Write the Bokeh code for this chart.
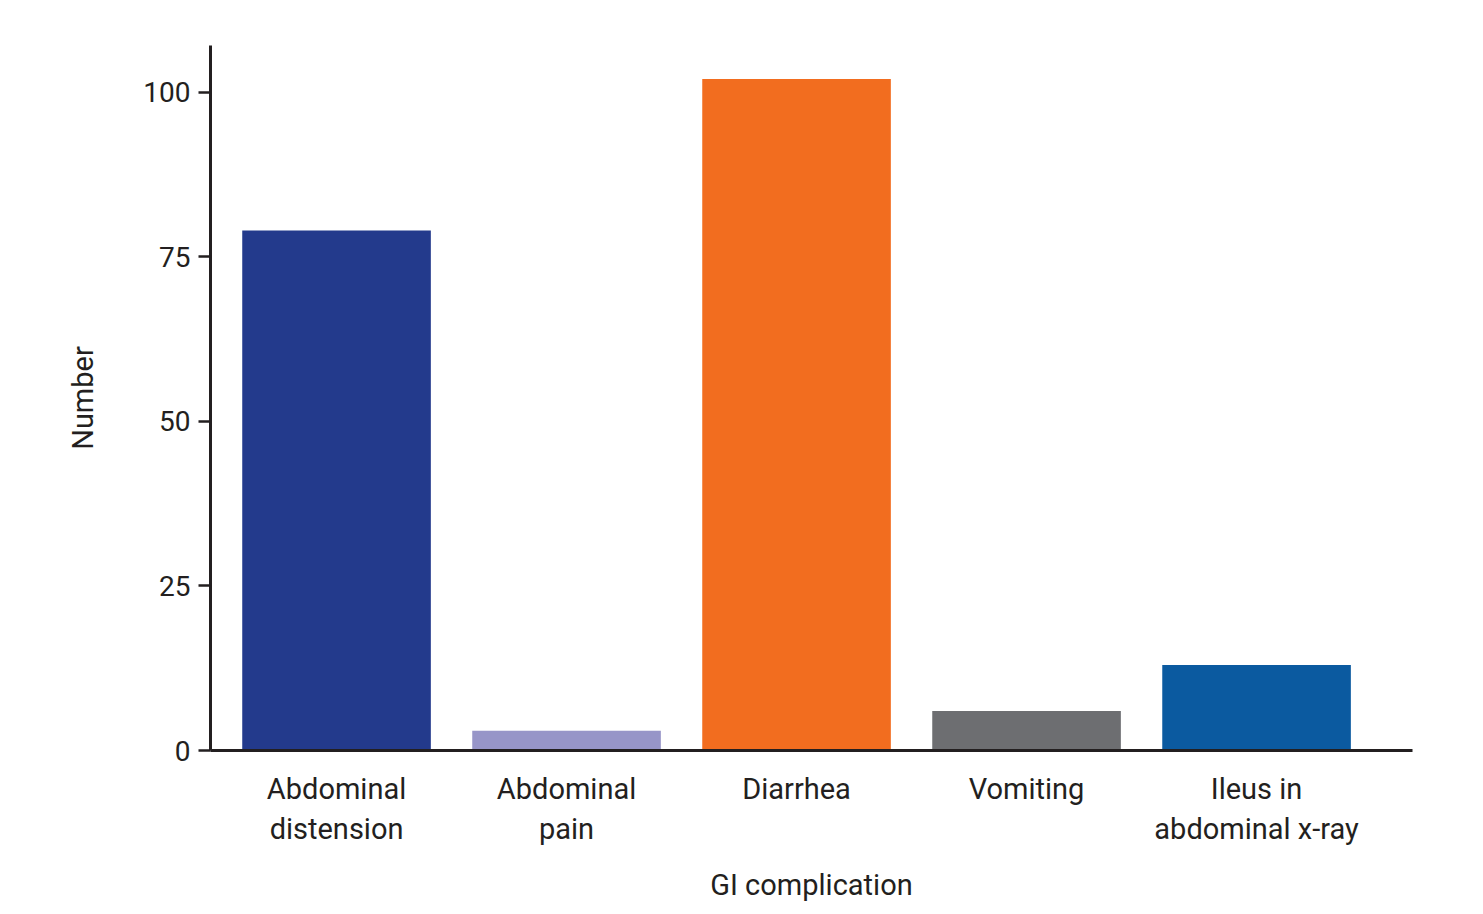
from bokeh.plotting import figure
from bokeh.models import Range1d, FixedTicker
from bokeh.embed import file_html
from bokeh.resources import INLINE

categories = ["Abdominal\ndistension", "Abdominal\npain", "Diarrhea", "Vomiting", "Ileus in\nabdominal x-ray"]
values = [79, 3, 102, 6, 13]
colors = ["#233a8c", "#9795c8", "#f26d1f", "#6d6e71", "#0b5aa0"]
y_ticks = [0, 25, 50, 75, 100]

xs = list(range(len(categories)))

p = figure(width=1467, height=906, output_backend="svg", toolbar_location=None,
           x_range=Range1d(-0.548, 4.678), y_range=Range1d(0, 107.1),
           min_border_left=210, min_border_right=55, min_border_top=45, min_border_bottom=156)
p.outline_line_color = None
p.grid.visible = False
p.background_fill_color = "white"

p.vbar(x=xs, top=values, width=0.82, bottom=0, color=colors, line_color=None)

font = "Roboto"
p.xaxis.ticker = FixedTicker(ticks=xs)
p.xaxis.major_label_overrides = {i: c for i, c in enumerate(categories)}
p.xaxis.major_tick_line_color = None
p.xaxis.minor_tick_line_color = None
p.xaxis.axis_line_width = 3
p.xaxis.axis_line_color = "#231f20"
p.xaxis.major_label_text_font = font
p.xaxis.major_label_text_font_size = "29px"
p.xaxis.major_label_text_color = "#231f20"
p.xaxis.major_label_standoff = 15
p.xaxis.axis_label = "GI complication"
p.xaxis.axis_label_text_font = font
p.xaxis.axis_label_text_font_size = "29px"
p.xaxis.axis_label_text_font_style = "normal"
p.xaxis.axis_label_text_color = "#231f20"
p.xaxis.axis_label_standoff = 19

p.yaxis.ticker = FixedTicker(ticks=y_ticks)
p.yaxis.minor_tick_line_color = None
p.yaxis.major_tick_in = 0
p.yaxis.major_tick_out = 12
p.yaxis.major_tick_line_width = 2.5
p.yaxis.major_tick_line_color = "#231f20"
p.yaxis.axis_line_width = 3
p.yaxis.axis_line_color = "#231f20"
p.yaxis.major_label_text_font = font
p.yaxis.major_label_text_font_size = "28px"
p.yaxis.major_label_text_color = "#231f20"
p.yaxis.major_label_standoff = 8
p.yaxis.axis_label = "Number"
p.yaxis.axis_label_text_font = font
p.yaxis.axis_label_text_font_size = "29px"
p.yaxis.axis_label_text_font_style = "normal"
p.yaxis.axis_label_text_color = "#231f20"
p.yaxis.axis_label_standoff = 40

open("out.html", "w").write(file_html(p, INLINE))
